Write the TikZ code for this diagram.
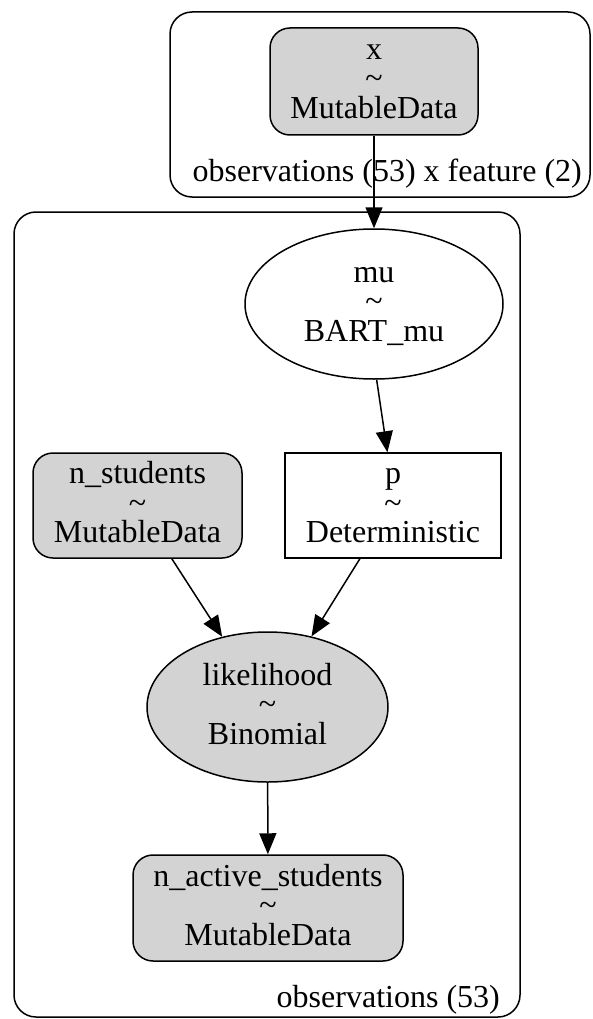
\documentclass[tikz,border=0pt]{standalone}
\usepackage{fontspec}
\setmainfont{Liberation Serif}
\usetikzlibrary{shapes.geometric,arrows.meta}
\definecolor{nodegray}{HTML}{D3D3D3}
\newcommand{\sv}{\rule[-7pt]{0pt}{29pt}}
\tikzset{
  base/.style={draw=black, line width=1.5pt, inner sep=0pt, align=center,
    font=\fontsize{32}{29.5}\selectfont, text=black},
  datanode/.style={base, rectangle, rounded corners=20pt, fill=nodegray},
  freenode/.style={base, ellipse},
  obsnode/.style={base, ellipse, fill=nodegray},
  detnode/.style={base, rectangle},
  cluster/.style={draw=black, line width=1.5pt, rounded corners=22pt},
  clabel/.style={inner sep=0pt, anchor=base east, font=\fontsize{32}{29.5}\selectfont},
  edge/.style={draw=black, line width=1.5pt, -{Triangle[length=21pt,width=17pt]}}
}
\begin{document}
\begin{tikzpicture}[x=1pt,y=-1pt]
\useasboundingbox (0,0) rectangle (592,1019);
% clusters
\draw[cluster] (170,12) rectangle (590,197);
\draw[cluster] (14,212) rectangle (520,1017);
\node[clabel] (lab1) at (582,182) {observations (53) x feature (2)};
\node[clabel] (lab2) at (500,1007) {observations (53)};
% nodes
\node[datanode, minimum width=208pt, minimum height=107pt] (x) at (374,81.5)
  {\sv x\\\sv\textasciitilde\\\sv MutableData};
\node[freenode, minimum width=258pt, minimum height=150pt] (mu) at (374,304)
  {\sv mu\\\sv\textasciitilde\\\sv BART\_mu};
\node[datanode, minimum width=209pt, minimum height=105pt] (ns) at (137.5,505.5)
  {\sv n\_students\\\sv\textasciitilde\\\sv MutableData};
\node[detnode, minimum width=216pt, minimum height=105pt] (p) at (393,505.5)
  {\sv p\\\sv\textasciitilde\\\sv Deterministic};
\node[obsnode, minimum width=241pt, minimum height=150pt] (lik) at (267.5,707)
  {\sv likelihood\\\sv\textasciitilde\\\sv Binomial};
\node[datanode, minimum width=270pt, minimum height=106pt] (nas) at (268,908)
  {\sv n\_active\_students\\\sv\textasciitilde\\\sv MutableData};
% edges
\draw[edge] (x) -- (mu);
\draw[edge] (mu.-88) -- (p.96.5);
\draw[edge] (ns) -- (lik);
\draw[edge] (p) -- (lik);
\draw[edge] (lik) -- (nas);
\end{tikzpicture}
\end{document}
